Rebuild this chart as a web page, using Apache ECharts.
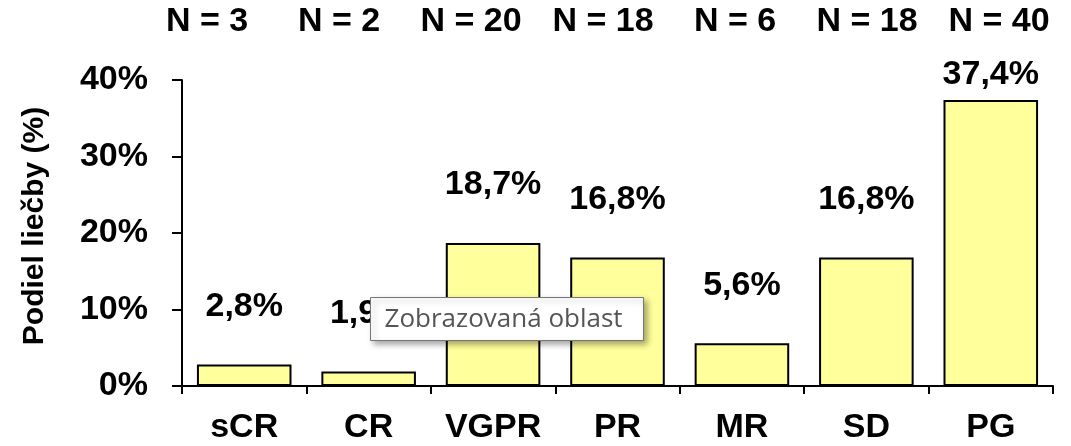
<!DOCTYPE html>
<html lang="sk">
<head>
  <meta charset="UTF-8">
  <title>Podiel liečby</title>
  <script src="https://cdn.jsdelivr.net/npm/echarts@6/dist/echarts.min.js"></script>
  <style>
    html, body { margin: 0; padding: 0; background: #fff; }
  </style>
</head>
<body>
<div id="main" style="width: 1071px;height:446px;"></div>
<script type="text/javascript">
    // data
    var categories = ['sCR', 'CR', 'VGPR', 'PR', 'MR', 'SD', 'PG'];
    var counts = ['N = 3', 'N = 2', 'N = 20', 'N = 18', 'N = 6', 'N = 18', 'N = 40'];
    var shares = [2.8, 1.9, 18.7, 16.8, 5.6, 16.8, 37.4];
    var yTicks = { min: 0, max: 40, interval: 10 };

    var myChart = echarts.init(document.getElementById('main'));
    var font = 'Liberation Sans, Arial, sans-serif';

    // labels float high above the bars, except the last one (no room)
    var barData = shares.map(function (v, i) {
        return {
            value: v,
            label: { distance: i === shares.length - 1 ? 8 : 41 }
        };
    });

    var option = {
        animation: false,
        grid: [
            { left: 182, right: 18, top: 80, bottom: 60 },
            // the N = ... header row is spaced a bit wider than the plot
            { left: 141, right: 6, top: 80, bottom: 60 }
        ],
        xAxis: [{
            type: 'category',
            gridIndex: 0,
            data: categories,
            axisLine: { lineStyle: { color: '#000', width: 2 } },
            axisTick: { show: true, length: 8, lineStyle: { color: '#000', width: 2 } },
            axisLabel: {
                interval: 0,
                color: '#000', fontFamily: font, fontWeight: 'bold',
                fontSize: 34, margin: 25
            }
        }, {
            type: 'category',
            gridIndex: 1,
            position: 'top',
            data: counts,
            axisLine: { show: false },
            axisTick: { show: false },
            axisLabel: {
                interval: 0,
                color: '#000', fontFamily: font, fontWeight: 'bold',
                fontSize: 34, margin: 41
            }
        }],
        yAxis: [{
            type: 'value',
            gridIndex: 0,
            min: yTicks.min,
            max: yTicks.max,
            interval: yTicks.interval,
            splitLine: { show: false },
            axisLine: { show: true, lineStyle: { color: '#000', width: 2 } },
            axisTick: { show: true, length: 10, lineStyle: { color: '#000', width: 2 } },
            axisLabel: {
                formatter: '{value}%',
                color: '#000', fontFamily: font, fontWeight: 'bold',
                fontSize: 34, margin: 34
            },
            name: 'Podiel liečby (%)',
            nameLocation: 'middle',
            nameRotate: 90,
            nameGap: 132,
            nameTextStyle: {
                color: '#000', fontFamily: font, fontWeight: 'bold',
                fontSize: 30, padding: [0, 0, 0, 14]
            }
        }, {
            type: 'value',
            gridIndex: 1,
            show: false
        }],
        series: [{
            type: 'bar',
            xAxisIndex: 0,
            yAxisIndex: 0,
            data: barData,
            barCategoryGap: '24%',
            itemStyle: { color: '#ffff9c', borderColor: '#000', borderWidth: 2 },
            label: {
                show: true,
                position: 'top',
                color: '#000', fontFamily: font, fontWeight: 'bold', fontSize: 34,
                formatter: function (p) { return String(p.value).replace('.', ',') + '%'; }
            }
        }],
        // the screenshot's system tooltip overlay
        graphic: [{
            type: 'group',
            left: 370, top: 297, z: 100,
            children: [{
                type: 'rect',
                z: 100,
                shape: { x: 0, y: 0, width: 273, height: 43 },
                style: {
                    fill: '#fff', stroke: '#767676', lineWidth: 1,
                    shadowBlur: 6, shadowOffsetX: 3, shadowOffsetY: 3,
                    shadowColor: 'rgba(0,0,0,0.35)'
                }
            }, {
                type: 'text',
                z: 101,
                x: 14, y: 22,
                style: {
                    text: 'Zobrazovaná oblast',
                    fill: '#555', fontFamily: 'Open Sans, sans-serif',
                    fontSize: 26, verticalAlign: 'middle'
                }
            }]
        }]
    };

    myChart.setOption(option);
</script>
</body>
</html>
